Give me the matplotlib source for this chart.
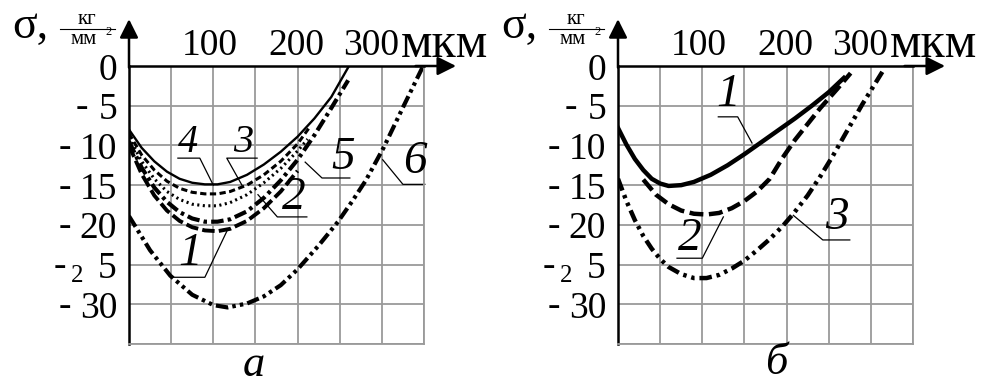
import matplotlib
matplotlib.use("Agg")
import matplotlib.pyplot as plt

plt.rcParams['font.family'] = ['Liberation Serif', 'DejaVu Serif']
plt.rcParams['lines.scale_dashes'] = False

# depth, um / residual stress, kg/mm^2  -- panel "а"
a1_x = [0, 15, 30, 45, 60, 75, 90, 105, 120, 140, 160, 180, 200]
a1_y = [-10.0, -13.6, -16.3, -18.2, -19.5, -20.3, -20.7, -20.8, -20.5, -19.5, -17.9, -15.8, -13.2]
a2_x = [0, 15, 30, 45, 60, 75, 90, 105, 120, 140, 160, 180, 200, 212]
a2_y = [-9.0, -12.0, -14.2, -15.8, -16.8, -17.4, -17.6, -17.6, -17.2, -16.2, -14.7, -12.9, -10.7, -9.2]
a3_x = [0, 15, 30, 45, 60, 75, 90, 105, 120, 140, 160, 180, 200, 215]
a3_y = [-8.5, -11.2, -13.1, -14.5, -15.4, -15.9, -16.1, -16.1, -15.8, -15.0, -13.7, -12.0, -9.8, -7.6]
a4_x = [0, 15, 30, 45, 60, 75, 90, 105, 120, 140, 160, 180, 200, 220, 240, 261]
a4_y = [-8.0, -10.3, -12.0, -13.3, -14.2, -14.7, -14.9, -14.9, -14.6, -13.7, -12.4, -10.8, -8.9, -6.6, -3.9, 0.0]
a5_x = [0, 15, 30, 45, 60, 75, 90, 105, 120, 140, 160, 180, 200, 220, 240, 260]
a5_y = [-9.5, -12.8, -15.3, -17.1, -18.4, -19.2, -19.6, -19.6, -19.3, -18.3, -16.6, -14.4, -11.8, -8.7, -5.3, -1.8]
a6_x = [0, 25, 49, 75, 100, 117, 140, 160, 180, 200, 225, 248, 265, 281, 302, 326, 349]
a6_y = [-18.9, -23.2, -26.4, -28.8, -30.1, -30.4, -29.9, -29.0, -27.6, -25.6, -22.6, -19.6, -17.0, -14.4, -10.3, -5.0, 0.0]

# panel "б"
b1_x = [0, 10, 20, 30, 40, 50, 60, 75, 90, 110, 130, 150, 170, 190, 210, 230, 250, 268]
b1_y = [-7.8, -9.9, -11.7, -13.1, -14.2, -14.8, -15.1, -15.0, -14.6, -13.7, -12.5, -11.1, -9.6, -8.1, -6.6, -5.0, -3.3, -1.5]
b2_x = [30, 45, 60, 75, 90, 105, 120, 135, 150, 165, 180, 195, 210, 225, 240, 260, 276]
b2_y = [-14.3, -16.2, -17.4, -18.2, -18.6, -18.7, -18.5, -17.9, -17.0, -15.8, -14.2, -11.6, -9.3, -7.3, -5.3, -2.9, -0.9]
b3_x = [0, 10, 20, 30, 40, 50, 60, 75, 90, 105, 120, 135, 150, 165, 180, 195, 208, 225, 240, 255, 270, 290, 315]
b3_y = [-14.2, -17.0, -19.4, -21.4, -23.0, -24.3, -25.3, -26.2, -26.7, -26.7, -26.3, -25.5, -24.5, -23.2, -21.8,
        -20.2, -18.6, -16.3, -13.9, -11.3, -8.5, -4.8, -0.5]

x_labels = ['100', '200', '300']
x_label_pos = [96, 198, 287]
y_levels = [0, -5, -10, -15, -20, -30]
y_numbers = ['0', '5', '10', '15', '20', '30']

W, H = 989, 388
fig = plt.figure(figsize=(W / 100, H / 100), dpi=100)


def make_axes(x0):
    ax = fig.add_axes([x0 / W, 1 - 344 / H, 295 / W, 278 / H])
    ax.set_xlim(0, 350)
    ax.set_ylim(-35, 0)
    ax.set_xticks(range(0, 351, 50))
    ax.set_yticks(range(-35, 1, 5))
    ax.tick_params(length=0, labelleft=False, labelbottom=False)
    ax.grid(True, color='#9a9a9a', lw=1.3)
    ax.set_axisbelow(True)
    for s in ('right', 'bottom'):
        ax.spines[s].set_color('#9a9a9a')
        ax.spines[s].set_linewidth(1.3)
    ax.spines['left'].set_linewidth(1.8)
    ax.spines['top'].set_linewidth(1.8)
    # axis arrows
    ax.annotate('', xy=(0, 5.9), xytext=(0, -0.2), annotation_clip=False,
                arrowprops=dict(arrowstyle='-|>', color='k', lw=1.8, mutation_scale=28,
                                shrinkA=0, shrinkB=0))
    ax.annotate('', xy=(388, 0), xytext=(340, 0), annotation_clip=False,
                arrowprops=dict(arrowstyle='-|>', color='k', lw=1.8, mutation_scale=28,
                                shrinkA=0, shrinkB=0))
    # tick labels
    for s, xp in zip(x_labels, x_label_pos):
        ax.text(xp, 2.6, s, fontsize=27, ha='center', va='center', clip_on=False)
    ax.text(323, 2.7, 'мкм', fontsize=36, ha='left', va='center', clip_on=False)
    for v, s in zip(y_levels, y_numbers):
        ax.text(-14, v - 0.55, s, fontsize=27, ha='right', va='center', clip_on=False)
        if v == -5:
            ax.text(-48, v - 0.3, '-', fontsize=27, ha='right', va='center', clip_on=False)
        elif v < 0:
            ax.text(-69, v - 0.3, '-', fontsize=27, ha='right', va='center', clip_on=False)
    # the "-25" label is printed with a small lowered 2
    ax.text(-15, -25.55, '5', fontsize=27, ha='right', va='center', clip_on=False)
    ax.text(-61, -26.4, '2', fontsize=18, ha='center', va='center', clip_on=False)
    ax.text(-75, -25.3, '-', fontsize=27, ha='right', va='center', clip_on=False)
    # units
    ax.text(-138, 4.9, 'σ,', fontsize=33, ha='left', va='center', clip_on=False)
    ax.text(-50, 5.8, 'кг', fontsize=15, ha='center', va='center', clip_on=False)
    ax.plot([-82, -17], [4.65, 4.65], color='k', lw=0.8, clip_on=False)
    ax.text(-54, 3.35, 'мм', fontsize=15, ha='center', va='center', clip_on=False)
    ax.text(-24, 4.3, '2', fontsize=9, ha='center', va='center', clip_on=False)
    return ax


def tag(ax, s, tx, ty, ux0, ux1, uy, px, py, from_left, size=34):
    ax.text(tx, ty, s, fontsize=size, style='italic', ha='center', va='center', clip_on=False)
    sx = ux0 if from_left else ux1
    ax.plot([ux1 if from_left else ux0, sx, px], [uy, uy, py], color='k', lw=0.9, clip_on=False)


ax_a = make_axes(129)
ax_a.plot(a4_x, a4_y, color='k', lw=1.7)
ax_a.plot(a3_x, a3_y, color='k', lw=2.2, dashes=(4.5, 2.5))
ax_a.plot(a2_x, a2_y, color='k', lw=2.2, dashes=(1.5, 2.5))
ax_a.plot(a1_x, a1_y, color='k', lw=2.8, dashes=(9, 3))
ax_a.plot(a5_x, a5_y, color='k', lw=3.0, dashes=(9, 3, 2.5, 3))
ax_a.plot(a6_x, a6_y, color='k', lw=3.0, dashes=(9, 3, 2.5, 3, 2.5, 3))

tag(ax_a, '4', 70, -9.6, 58, 84, -11.6, 100, -15.0, False, size=29)
tag(ax_a, '3', 135, -9.6, 116, 152, -11.6, 134, -15.0, True, size=29)
tag(ax_a, '5', 254, -11.6, 229, 262, -14.1, 209, -12.1, True)
tag(ax_a, '6', 339, -12.1, 325, 351, -14.9, 301, -11.8, True)
tag(ax_a, '2', 195, -16.6, 176, 211, -19.0, 153, -16.2, True)
tag(ax_a, '1', 72, -23.7, 51, 90, -26.6, 117, -20.6, False)
ax_a.text(148, -37.7, 'а', fontsize=32, style='italic', ha='center', va='center', clip_on=False)

ax_b = make_axes(618)
ax_b.plot(b1_x, b1_y, color='k', lw=3.2)
ax_b.plot(b2_x, b2_y, color='k', lw=3.2, dashes=(10, 4))
ax_b.plot(b3_x, b3_y, color='k', lw=3.2, dashes=(9, 3.5, 2.5, 3.5, 2.5, 3.5))

tag(ax_b, '1', 131, -3.6, 119, 142, -6.4, 159, -9.7, False)
tag(ax_b, '2', 85, -21.7, 70, 100, -24.2, 125, -19.0, False)
tag(ax_b, '3', 260, -19.1, 243, 275, -21.9, 208, -18.8, True)
ax_b.text(188, -37.4, 'б', fontsize=32, style='italic', ha='center', va='center', clip_on=False)

fig.savefig('out.png', dpi=100)
